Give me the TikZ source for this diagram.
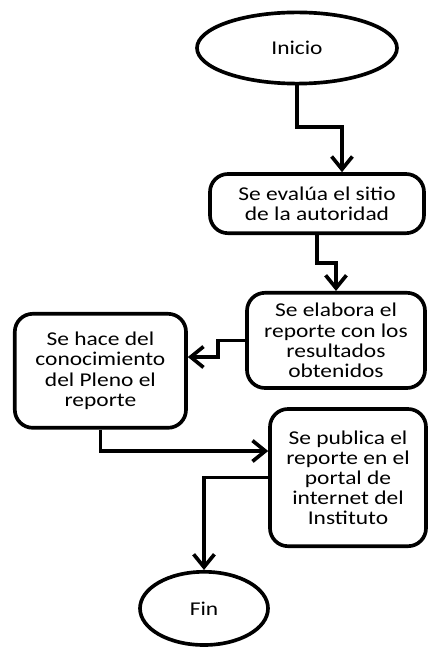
\documentclass[tikz,border=0pt]{standalone}
\usepackage{fontspec}
\setmainfont{Carlito}[FakeStretch=1.2]
\usepackage{tikz}
\usetikzlibrary{arrows.meta, shapes, positioning}

\tikzset{
  flow/.style={draw, line width=2.6pt, -{Straight Barb[length=0.32cm, width=0.52cm]}},
  stepbox/.style={rectangle, rounded corners=0.45cm, draw, line width=2.6pt, align=center,
    font=\fontsize{13.9pt}{14.3pt}\selectfont},
  endpoint/.style={ellipse, draw, line width=2.6pt, align=center,
    font=\fontsize{13.9pt}{14.3pt}\selectfont},
}

\begin{document}
\begin{tikzpicture}
  \useasboundingbox (0,0) rectangle (10.7,-16.2);
    \node[endpoint, minimum width=5cm, minimum height=1.78cm] (inicio) at (7.425,-1.2) {Inicio};
    \node[stepbox, minimum width=5.35cm, minimum height=1.48cm] (evalua) at (7.925,-5.09) {Se evalúa el sitio\\de la autoridad};
    \node[stepbox, minimum width=4.45cm, minimum height=2.38cm] (elabora) at (8.4,-8.51) {Se elabora el\\reporte con los\\resultados\\obtenidos};
    \node[stepbox, minimum width=4.28cm, minimum height=2.85cm] (pleno) at (2.51,-9.27) {Se hace del\\conocimiento\\del Pleno el\\reporte};
    \node[stepbox, minimum width=3.9cm, minimum height=3.43cm] (publica) at (8.7,-11.94) {Se publica el\\reporte en el\\portal de\\internet del\\Instituto};
    \node[endpoint, minimum width=3.2cm, minimum height=1.83cm] (fin) at (5.1,-15.21) {Fin};

  \coordinate (j1) at (8.55,-3.175);
  \coordinate (j2) at (7.925,-6.575);
  \coordinate (j3) at (5.45,-8.925);
  \coordinate (j4) at (2.51,-11.275);
  \path[flow] (inicio.south) |- (j1) -- (j1 |- evalua.north);
  \path[flow] (evalua.south) -- (j2) -| (elabora.north);
  \path[flow] (elabora.west) -| (j3) -- (j3 -| pleno.east);
  \path[flow] (pleno.south) -- (j4) -- (j4 -| publica.west);
  \path[flow] (publica.west) -| (fin.north);
\end{tikzpicture}
\end{document}
